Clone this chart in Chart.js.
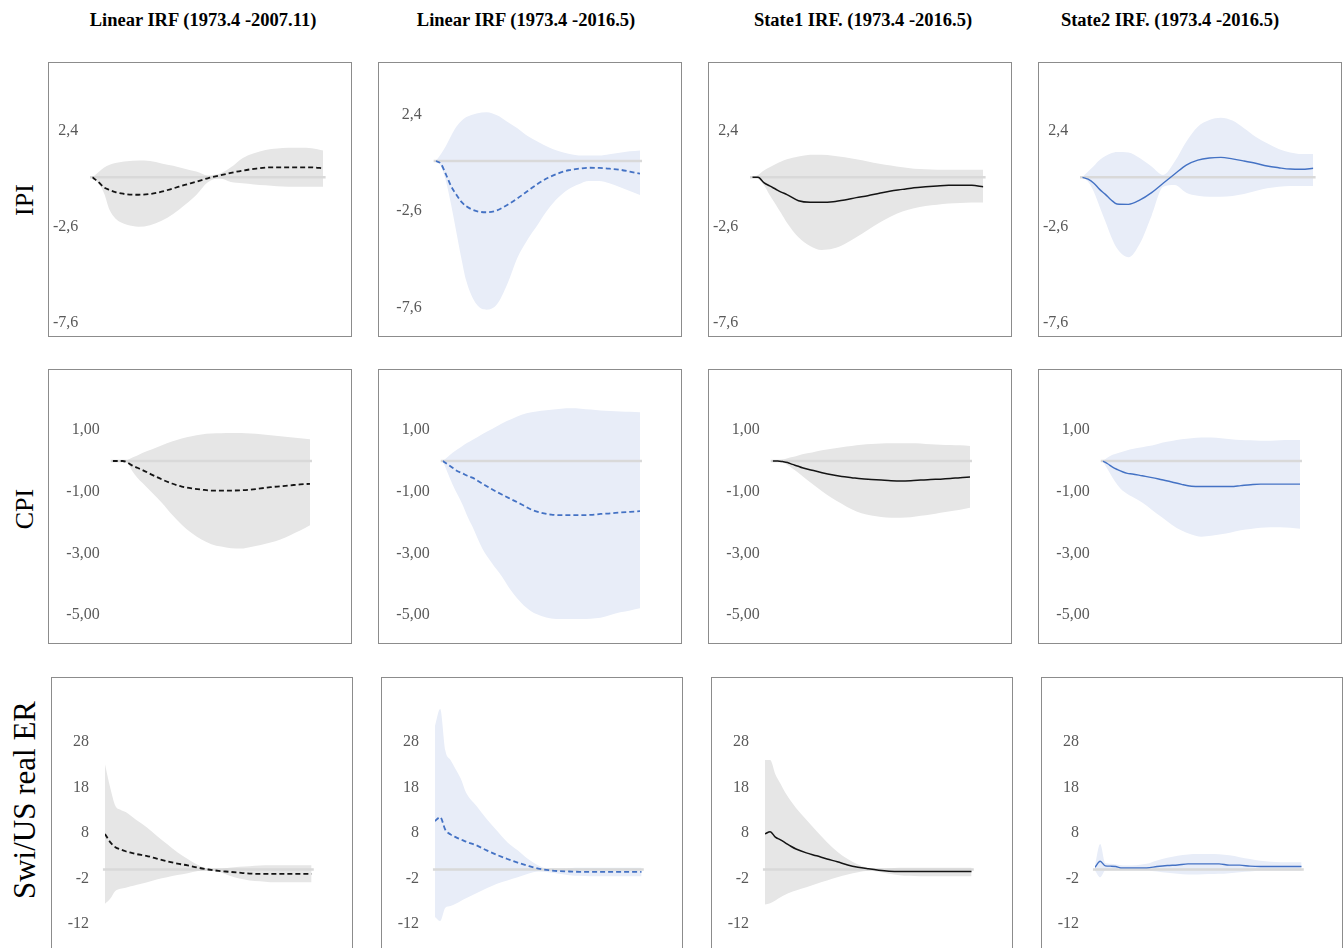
<!DOCTYPE html>
<html>
<head>
<meta charset="utf-8">
<script src="https://cdn.jsdelivr.net/npm/chart.js@4.4.1/dist/chart.umd.min.js"></script>
<style>
  html, body { margin: 0; padding: 0; background: #fff; }
  body { position: relative; width: 1344px; height: 948px; overflow: hidden;
         font-family: 'Liberation Serif', 'Times New Roman', serif; color: #000; }
  .panel { position: absolute; border: 1px solid #8c8c8c; box-sizing: border-box; background: #fff; }
  .panel canvas { display: block; }
  .col-title { position: absolute; top: 10px; font-weight: bold; font-size: 18.5px;
               white-space: nowrap; transform: translateX(-50%); }
  .row-title { position: absolute; font-size: 26px; white-space: nowrap;
               transform: translate(-50%, -50%) rotate(-90deg); }
  .row-title.long { font-size: 31px; }
</style>
</head>
<body>
<script>
// ---- horizons (months after the shock) ----
const horizon = [0, 1, 2, 3, 4, 5, 6, 8, 10, 12, 14, 16, 18, 20, 22, 24, 26, 28, 30, 32, 34, 36, 38, 40];

// ---- column and row headings ----
const columnTitles = ['Linear IRF (1973.4 -2007.11)', 'Linear IRF (1973.4 -2016.5)',
                      'State1 IRF. (1973.4 -2016.5)', 'State2 IRF. (1973.4 -2016.5)'];
const rowTitles = ['IPI', 'CPI', 'Swi/US real ER'];

// ---- y tick values and their printed labels, per row ----
const ipiTicks = [2.4, -2.6, -7.6];
const ipiTickLabels = ['2,4', '-2,6', '-7,6'];
const cpiTicks = [1, -1, -3, -5];
const cpiTickLabels = ['1,00', '-1,00', '-3,00', '-5,00'];
const erTicks = [28, 18, 8, -2, -12];
const erTickLabels = ['28', '18', '8', '-2', '-12'];

// ---- IPI responses ----
const ipiLin07Mean = [0, -0.23, -0.52, -0.66, -0.77, -0.84, -0.89, -0.91, -0.87, -0.75, -0.58, -0.40, -0.23, -0.05, 0.09, 0.23, 0.35, 0.44, 0.51, 0.52, 0.52, 0.52, 0.52, 0.47];
const ipiLin07Hi   = [0, 0.25, 0.5, 0.66, 0.75, 0.8, 0.84, 0.87, 0.85, 0.72, 0.6, 0.45, 0.3, 0.1, 0.19, 0.52, 1.0, 1.26, 1.43, 1.5, 1.54, 1.54, 1.52, 1.4];
const ipiLin07Lo   = [0, -0.3, -0.8, -1.71, -2.15, -2.36, -2.48, -2.58, -2.5, -2.27, -1.92, -1.45, -0.92, -0.26, -0.05, -0.24, -0.31, -0.37, -0.42, -0.47, -0.49, -0.49, -0.49, -0.49];

const ipiLin16Mean = [0, -0.14, -0.69, -1.30, -1.73, -2.11, -2.35, -2.6, -2.66, -2.56, -2.28, -1.94, -1.56, -1.18, -0.87, -0.64, -0.48, -0.40, -0.35, -0.36, -0.40, -0.45, -0.55, -0.66];
const ipiLin16Hi   = [0, 0.35, 0.78, 1.30, 1.76, 2.08, 2.28, 2.47, 2.53, 2.37, 2.04, 1.70, 1.30, 1.0, 0.73, 0.52, 0.38, 0.29, 0.28, 0.28, 0.35, 0.43, 0.50, 0.55];
const ipiLin16Lo   = [0, -0.26, -1.04, -2.25, -3.63, -5.02, -6.23, -7.44, -7.72, -7.44, -6.40, -5.02, -4.07, -3.29, -2.51, -1.90, -1.47, -1.21, -1.04, -1.04, -1.16, -1.35, -1.56, -1.76];

const ipiS1Mean = [0, 0, -0.28, -0.45, -0.61, -0.77, -0.90, -1.22, -1.30, -1.30, -1.27, -1.18, -1.06, -0.96, -0.83, -0.71, -0.63, -0.54, -0.49, -0.45, -0.42, -0.42, -0.42, -0.49];
const ipiS1Hi   = [0, 0.12, 0.35, 0.52, 0.68, 0.82, 0.94, 1.08, 1.17, 1.18, 1.13, 1.04, 0.94, 0.83, 0.71, 0.61, 0.52, 0.45, 0.42, 0.40, 0.40, 0.40, 0.40, 0.40];
const ipiS1Lo   = [0, -0.07, -0.40, -0.92, -1.39, -1.88, -2.37, -3.13, -3.58, -3.79, -3.72, -3.48, -3.13, -2.75, -2.37, -2.05, -1.79, -1.62, -1.50, -1.43, -1.37, -1.34, -1.32, -1.32];

const ipiS2Mean = [0, -0.10, -0.31, -0.63, -0.89, -1.18, -1.39, -1.41, -1.18, -0.80, -0.31, 0.17, 0.64, 0.90, 1.01, 1.04, 0.96, 0.85, 0.73, 0.59, 0.50, 0.43, 0.42, 0.47];
const ipiS2Hi   = [0, 0.30, 0.59, 0.90, 1.11, 1.25, 1.32, 1.29, 0.99, 0.56, 0.12, 0.82, 1.86, 2.64, 2.99, 3.11, 2.96, 2.56, 2.12, 1.77, 1.48, 1.30, 1.22, 1.22];
const ipiS2Lo   = [0, -0.23, -0.75, -1.53, -2.31, -3.10, -3.70, -4.17, -3.44, -2.0, -0.49, -0.40, -0.80, -0.96, -1.01, -1.01, -0.97, -0.87, -0.71, -0.57, -0.49, -0.45, -0.45, -0.45];

// ---- CPI responses ----
const cpiLin07Mean = [0, 0, 0, -0.05, -0.15, -0.22, -0.29, -0.45, -0.60, -0.73, -0.83, -0.89, -0.93, -0.96, -0.96, -0.96, -0.95, -0.93, -0.89, -0.85, -0.82, -0.79, -0.76, -0.74];
const cpiLin07Hi   = [0, 0, 0, 0.03, 0.11, 0.18, 0.26, 0.38, 0.51, 0.63, 0.73, 0.80, 0.86, 0.89, 0.90, 0.91, 0.91, 0.89, 0.87, 0.84, 0.80, 0.77, 0.74, 0.71];
const cpiLin07Lo   = [0, 0, 0, -0.08, -0.33, -0.54, -0.71, -1.03, -1.36, -1.74, -2.07, -2.34, -2.55, -2.70, -2.78, -2.83, -2.84, -2.79, -2.73, -2.65, -2.55, -2.41, -2.26, -2.09];

const cpiLin16Mean = [0, -0.11, -0.22, -0.33, -0.40, -0.48, -0.54, -0.73, -0.92, -1.09, -1.25, -1.41, -1.58, -1.68, -1.74, -1.76, -1.76, -1.76, -1.75, -1.72, -1.70, -1.67, -1.65, -1.63];
const cpiLin16Hi   = [0, 0.13, 0.27, 0.38, 0.49, 0.59, 0.68, 0.87, 1.04, 1.22, 1.36, 1.50, 1.58, 1.63, 1.66, 1.70, 1.71, 1.70, 1.67, 1.64, 1.62, 1.61, 1.60, 1.58];
const cpiLin16Lo   = [0, -0.38, -0.76, -1.09, -1.41, -1.79, -2.12, -2.83, -3.32, -3.75, -4.24, -4.62, -4.89, -5.03, -5.11, -5.13, -5.13, -5.13, -5.12, -5.09, -5.00, -4.91, -4.85, -4.78];

const cpiS1Mean = [0, 0, -0.02, -0.05, -0.11, -0.16, -0.22, -0.30, -0.38, -0.45, -0.50, -0.54, -0.58, -0.60, -0.62, -0.64, -0.65, -0.64, -0.62, -0.60, -0.59, -0.57, -0.54, -0.52];
const cpiS1Hi   = [0, 0.02, 0.05, 0.09, 0.13, 0.17, 0.22, 0.28, 0.35, 0.40, 0.45, 0.49, 0.53, 0.55, 0.57, 0.58, 0.58, 0.58, 0.57, 0.54, 0.53, 0.52, 0.51, 0.49];
const cpiS1Lo   = [0, -0.02, -0.05, -0.13, -0.24, -0.36, -0.49, -0.74, -0.98, -1.20, -1.39, -1.57, -1.70, -1.77, -1.82, -1.84, -1.84, -1.83, -1.78, -1.74, -1.68, -1.63, -1.58, -1.52];

const cpiS2Mean = [0, -0.09, -0.20, -0.28, -0.35, -0.40, -0.42, -0.48, -0.54, -0.61, -0.68, -0.76, -0.82, -0.83, -0.83, -0.83, -0.83, -0.80, -0.77, -0.75, -0.75, -0.75, -0.75, -0.75];
const cpiS2Hi   = [0, 0.11, 0.20, 0.25, 0.30, 0.35, 0.39, 0.45, 0.50, 0.59, 0.65, 0.71, 0.74, 0.76, 0.76, 0.74, 0.71, 0.68, 0.67, 0.66, 0.66, 0.67, 0.68, 0.68];
const cpiS2Lo   = [0, -0.27, -0.54, -0.78, -0.96, -1.07, -1.16, -1.35, -1.59, -1.83, -2.07, -2.26, -2.39, -2.46, -2.43, -2.38, -2.32, -2.25, -2.21, -2.17, -2.15, -2.15, -2.17, -2.20];

// ---- real exchange rate responses ----
const erLin07Mean = [7.8, 6.0, 4.9, 4.4, 4.0, 3.7, 3.4, 3.0, 2.4, 1.8, 1.3, 0.9, 0.4, 0, -0.3, -0.5, -0.7, -0.9, -0.95, -0.95, -0.95, -0.95, -0.95, -0.95];
const erLin07Hi   = [23.1, 18.0, 14.0, 13.1, 12.6, 11.8, 10.9, 9.3, 7.4, 5.6, 3.8, 2.3, 1.0, 0.15, 0.07, 0.37, 0.58, 0.73, 0.88, 0.95, 0.95, 0.95, 0.95, 0.95];
const erLin07Lo   = [-7.5, -6.4, -4.7, -4.2, -4.0, -3.7, -3.4, -2.85, -2.2, -1.7, -1.2, -0.8, -0.35, -0.15, -0.5, -1.3, -2.0, -2.4, -2.6, -2.8, -2.8, -2.8, -2.8, -2.8];

const erLin16Mean = [10.6, 11.5, 8.7, 7.7, 7.1, 6.6, 6.1, 5.3, 4.2, 3.2, 2.3, 1.5, 0.8, 0.2, -0.15, -0.36, -0.44, -0.51, -0.51, -0.51, -0.51, -0.51, -0.51, -0.51];
const erLin16Hi   = [31.5, 35.2, 26.1, 24.0, 22.0, 19.9, 16.9, 14.0, 11.1, 8.5, 6.0, 4.2, 2.3, 0.9, 0.2, 0.2, 0.3, 0.36, 0.36, 0.36, 0.36, 0.36, 0.36, 0.36];
const erLin16Lo   = [-10.4, -11.3, -8.4, -8.0, -7.5, -6.9, -6.3, -5.2, -4.1, -3.1, -2.4, -1.7, -0.95, -0.44, -0.58, -0.95, -1.24, -1.39, -1.5, -1.5, -1.5, -1.5, -1.5, -1.5];

const erS1Mean = [7.8, 8.3, 7.1, 6.5, 5.8, 5.1, 4.5, 3.65, 3.0, 2.3, 1.7, 1.0, 0.5, 0.15, -0.15, -0.36, -0.44, -0.44, -0.44, -0.44, -0.44, -0.44, -0.44, -0.44];
const erS1Hi   = [24.0, 24.0, 20.9, 18.8, 16.7, 15.0, 13.5, 10.9, 8.4, 6.0, 3.9, 2.3, 1.1, 0.3, 0.07, 0.2, 0.36, 0.36, 0.36, 0.36, 0.36, 0.36, 0.36, 0.36];
const erS1Lo   = [-7.7, -7.4, -6.8, -6.1, -5.5, -5.0, -4.6, -3.9, -3.1, -2.4, -1.7, -1.1, -0.6, -0.3, -0.5, -0.95, -1.24, -1.39, -1.46, -1.46, -1.46, -1.46, -1.46, -1.46];

const erS2Mean = [0.5, 1.8, 0.8, 0.73, 0.66, 0.36, 0.36, 0.36, 0.36, 0.66, 0.88, 1.0, 1.24, 1.24, 1.24, 1.24, 0.95, 0.95, 0.73, 0.66, 0.66, 0.66, 0.66, 0.66];
const erS2Hi   = [0.9, 5.6, 1.4, 1.24, 1.1, 0.95, 0.9, 0.95, 1.24, 2.0, 2.55, 3.0, 3.3, 3.4, 3.4, 3.35, 3.1, 2.7, 2.3, 1.9, 1.7, 1.6, 1.6, 1.6];
const erS2Lo   = [-0.2, -1.7, -0.2, -0.2, -0.2, -0.2, -0.2, -0.2, -0.2, -0.45, -0.73, -0.95, -1.1, -1.1, -1.0, -0.95, -0.8, -0.58, -0.44, -0.3, -0.3, -0.3, -0.3, -0.3];

// ---- styles ----
const GREY_BAND = '#e6e6e6';
const BLUE_BAND = '#e8edf8';
const ZERO_LINE = '#d9d9d9';
const BLACK = '#141414';
const BLUE = '#4472c4';
const DASH = [5, 3];

const styleLin07 = { band: GREY_BAND, color: BLACK, dash: DASH, width: 1.8 };
const styleLin16 = { band: BLUE_BAND, color: BLUE, dash: DASH, width: 1.8 };
const styleS1 = { band: GREY_BAND, color: BLACK, dash: [], width: 1.5 };
const styleS2 = { band: BLUE_BAND, color: BLUE, dash: [], width: 1.4 };
const colStyles = [styleLin07, styleLin16, styleS1, styleS2];

// ---- page layout (pixels) ----
const rowTop = [62, 369, 677];
const boxHeight = 275;
const colLeft = [[48, 378, 708, 1038], [48, 378, 708, 1038], [51, 381, 711, 1041]];
const boxWidth = [304, 304, 302];
const colOrigin = [40, 370, 700, 1030];
// plotted horizon span [start, end] inside each box
const plotSpan = [
  [[92.3, 323.3], [435.7, 640], [752.3, 983.3], [1082.3, 1313.3]],
  colOrigin.map(o => [o + 72.7, o + 270]),
  colOrigin.map(o => [o + 65, o + 271.7])
];
// y pixel of the zero line and pixels per unit
const zeroY = [[177.3, 161, 177.3, 177.3], [461, 461, 461, 461], [869.5, 869.5, 869.5, 869.5]];
const pxPerUnit = [[19.17, 19.27, 19.17, 19.17], [30.8, 30.8, 30.8, 30.8], [4.56, 4.56, 4.56, 4.56]];
const tickPad = [14, 13, 16];

const rowTicks = [[ipiTicks, ipiTickLabels], [cpiTicks, cpiTickLabels], [erTicks, erTickLabels]];
const panelSeries = [
  [[ipiLin07Mean, ipiLin07Hi, ipiLin07Lo], [ipiLin16Mean, ipiLin16Hi, ipiLin16Lo], [ipiS1Mean, ipiS1Hi, ipiS1Lo], [ipiS2Mean, ipiS2Hi, ipiS2Lo]],
  [[cpiLin07Mean, cpiLin07Hi, cpiLin07Lo], [cpiLin16Mean, cpiLin16Hi, cpiLin16Lo], [cpiS1Mean, cpiS1Hi, cpiS1Lo], [cpiS2Mean, cpiS2Hi, cpiS2Lo]],
  [[erLin07Mean, erLin07Hi, erLin07Lo], [erLin16Mean, erLin16Hi, erLin16Lo], [erS1Mean, erS1Hi, erS1Lo], [erS2Mean, erS2Hi, erS2Lo]]
];

const toPoints = arr => horizon.map((h, i) => ({ x: h, y: arr[i] }));
const H_MIN = 0, H_MAX = 40;

function addPanel(r, c) {
  const left = colLeft[r][c], top = rowTop[r], w = boxWidth[r], h = boxHeight;
  const box = document.createElement('div');
  box.className = 'panel';
  Object.assign(box.style, { left: left + 'px', top: top + 'px', width: w + 'px', height: h + 'px' });
  const cv = document.createElement('canvas');
  const iw = w - 2, ih = h - 2;
  cv.width = iw; cv.height = ih;
  cv.style.width = iw + 'px'; cv.style.height = ih + 'px';
  box.appendChild(cv);
  document.body.appendChild(box);

  const innerLeft = left + 1, innerTop = top + 1;
  const [x0, x1] = plotSpan[r][c];
  const axisWidth = x0 - innerLeft;
  const padRight = innerLeft + iw - x1;
  const z = zeroY[r][c], ppu = pxPerUnit[r][c];
  const yMax = (z - innerTop) / ppu;
  const yMin = -(innerTop + ih - z) / ppu;
  const [tv, tl] = rowTicks[r];
  const [mean, hi, lo] = panelSeries[r][c];
  const st = colStyles[c];

  new Chart(cv, {
    type: 'line',
    data: {
      datasets: [
        { data: toPoints(mean), borderColor: st.color, borderWidth: st.width, borderDash: st.dash,
          pointRadius: 0, fill: false, order: 0, cubicInterpolationMode: 'monotone' },
        { data: [{ x: H_MIN - 0.4, y: 0 }, { x: H_MAX + 0.4, y: 0 }], borderColor: ZERO_LINE, borderWidth: 2.5,
          pointRadius: 0, fill: false, order: 1, clip: false },
        { data: toPoints(hi), borderColor: 'rgba(0,0,0,0)', borderWidth: 0, pointRadius: 0,
          backgroundColor: st.band, fill: '+1', order: 2, cubicInterpolationMode: 'monotone' },
        { data: toPoints(lo), borderColor: 'rgba(0,0,0,0)', borderWidth: 0, pointRadius: 0,
          fill: false, order: 3, cubicInterpolationMode: 'monotone' }
      ]
    },
    options: {
      responsive: false,
      animation: false,
      events: [],
      layout: { padding: { left: 0, right: padRight, top: 0, bottom: 0 } },
      plugins: { legend: { display: false }, tooltip: { enabled: false } },
      scales: {
        x: { type: 'linear', min: H_MIN, max: H_MAX, display: false },
        y: {
          type: 'linear', min: yMin, max: yMax,
          grid: { display: false, drawTicks: false },
          border: { display: false },
          afterBuildTicks: s => { s.ticks = tv.map(v => ({ value: v })); },
          // fixed axis width, and no extra room reserved above/below the plot
          afterFit: s => { s.width = axisWidth; s.paddingTop = 0; s.paddingBottom = 0; },
          ticks: {
            autoSkip: false,
            padding: tickPad[r],
            color: '#595959',
            font: { family: "'Liberation Serif', 'Times New Roman', serif", size: 16 },
            callback: (v, i) => tl[i]
          }
        }
      }
    }
  });
}

// headings
const titleCenters = [203, 526, 863, 1170];
columnTitles.forEach((t, i) => {
  const d = document.createElement('div');
  d.className = 'col-title';
  d.textContent = t;
  d.style.left = titleCenters[i] + 'px';
  document.body.appendChild(d);
});
const rowTitleCenters = [200, 509, 800];
rowTitles.forEach((t, i) => {
  const d = document.createElement('div');
  d.className = 'row-title' + (t.length > 5 ? ' long' : '');
  d.textContent = t;
  d.style.left = '25px';
  d.style.top = rowTitleCenters[i] + 'px';
  document.body.appendChild(d);
});

for (let r = 0; r < 3; r++) for (let c = 0; c < 4; c++) addPanel(r, c);
</script>
</body>
</html>
